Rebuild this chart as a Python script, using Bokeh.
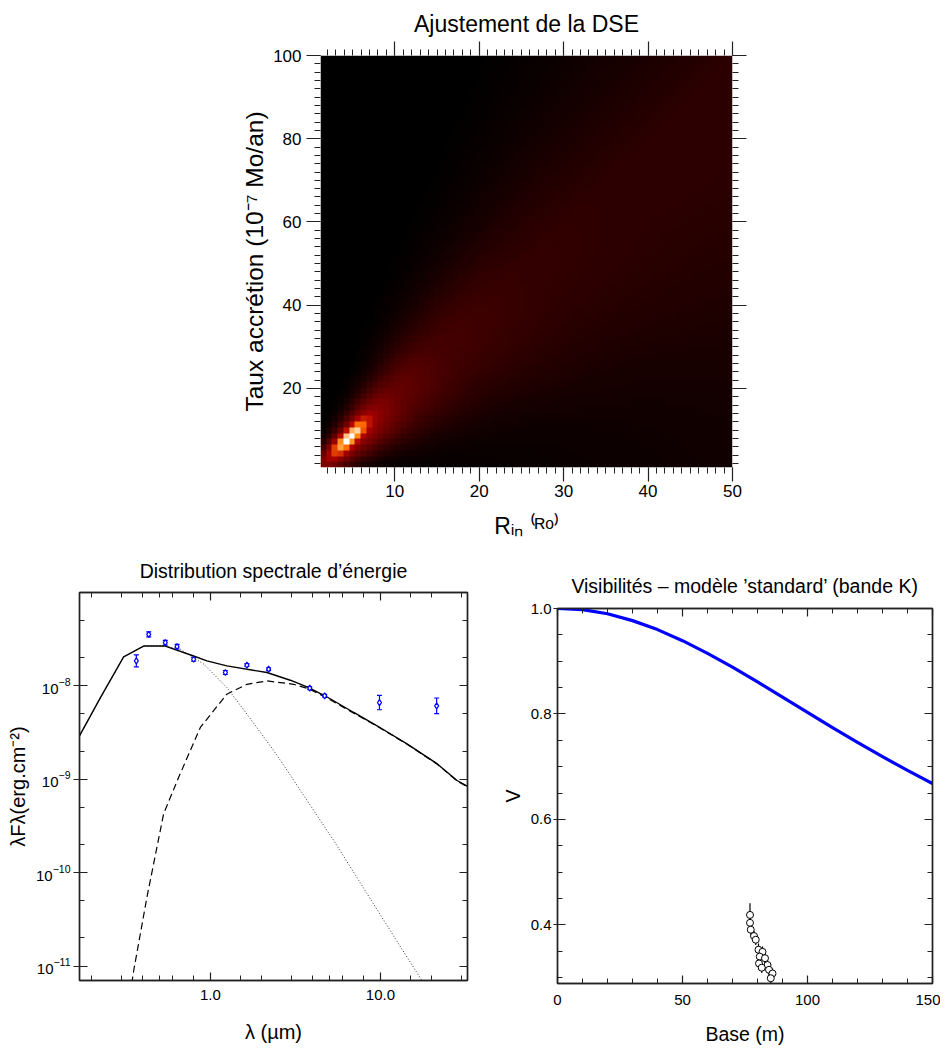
import numpy as np
from bokeh.plotting import figure
from bokeh.layouts import column, row
from bokeh.models import (LinearAxis, LogAxis, SingleIntervalTicker, FixedTicker,
                          LinearColorMapper, ColumnDataSource, Whisker, TeeHead, Spacer,
                          NumeralTickFormatter, LogTickFormatter, CustomJSTickFormatter)
from bokeh.embed import file_html
from bokeh.resources import INLINE

FONT = "Liberation Sans"

# ---------------- data: DSE fit map ----------------
map_rin_range = [1.2, 50.0]
map_mdot_range = [1.0, 100.0]
map_ncells = [72, 72]
peak_rin, peak_mdot = 4.7, 8.3
ridge_rin = [1.2, 3.0, 6.0, 10.0, 15.0, 25.0, 35.0, 50.0]
ridge_level = [0.30, 0.44, 0.44, 0.27, 0.175, 0.115, 0.09, 0.075]
ridge_w_up = [2.0, 2.3, 3.2, 5.0, 8.0, 13.0, 19.0, 27.0]
ridge_w_dn = [2.4, 3.3, 5.0, 8.5, 13.0, 23.0, 33.0, 44.0]
core_level = 0.62
floor_right = 0.045

# ---------------- data: SED ----------------
lam_tot = [0.17, 0.2257, 0.309, 0.405, 0.543, 0.797, 0.955, 1.25, 2.15, 2.95, 3.79,
           4.86, 6.97, 9.55, 14.4, 21.6, 28.2, 32.5]
f_tot = [2.92e-9, 7.5e-9, 2.04e-8, 2.67e-8, 2.67e-8, 2.09e-8, 1.85e-8, 1.64e-8, 1.39e-8,
         1.15e-8, 9.6e-9, 7.6e-9, 5.19e-9, 3.74e-9, 2.38e-9, 1.46e-9, 9.7e-10, 8.4e-10]
lam_star = [0.17, 0.2257, 0.309, 0.405, 0.543, 0.666, 0.914, 1.25, 1.64, 2.36, 2.83,
            5.31, 8.35, 13.1, 17.2, 18.5]
f_star = [2.92e-9, 7.5e-9, 2.04e-8, 2.67e-8, 2.67e-8, 2.47e-8, 1.71e-8, 9.6e-9, 4.99e-9,
          2.02e-9, 1.24e-9, 2.21e-10, 5.95e-11, 1.61e-11, 7.4e-12, 6.0e-12]
lam_disk = [0.345, 0.354, 0.424, 0.531, 0.651, 0.873, 1.25, 1.64, 2.15, 3.09, 3.79, 4.86,
            6.97, 9.55, 14.4, 21.6, 28.2, 32.5]
f_disk = [6.5e-12, 8.9e-12, 5.5e-11, 4.27e-10, 1.05e-9, 3.59e-9, 8.15e-9, 1.04e-8, 1.13e-8,
          1.04e-8, 9.3e-9, 7.4e-9, 5.1e-9, 3.7e-9, 2.36e-9, 1.45e-9, 9.6e-10, 8.3e-10]
lam_obs = [0.367, 0.434, 0.543, 0.637, 0.797, 1.225, 1.64, 2.2, 3.84, 4.7, 9.87, 21.4]
f_obs = [1.85e-8, 3.56e-8, 2.9e-8, 2.63e-8, 1.93e-8, 1.39e-8, 1.67e-8, 1.51e-8,
         9.45e-9, 7.82e-9, 6.63e-9, 6.11e-9]
err_dex = [0.064, 0.027, 0.025, 0.025, 0.02, 0.02, 0.015, 0.015, 0.015, 0.015, 0.077, 0.084]

# ---------------- data: visibilities ----------------
base_mod = [0, 10, 20, 30, 40, 50, 60, 70, 80, 90, 100, 110, 120, 130, 140, 150]
v_mod = [1.000, 0.998, 0.990, 0.977, 0.960, 0.939, 0.915, 0.889, 0.861, 0.832, 0.803,
         0.774, 0.746, 0.719, 0.693, 0.668]
base_obs = [77.0, 77.0, 77.3, 78.6, 79.3, 80.4, 82.0, 80.9, 83.0, 80.6, 84.0, 81.7, 84.6, 86.0, 85.3]
v_obs = [0.419, 0.404, 0.391, 0.379, 0.372, 0.353, 0.349, 0.340, 0.337, 0.327, 0.324,
         0.319, 0.315, 0.308, 0.299]
v_err = [0.022, 0.010, 0.010, 0.010, 0.010, 0.012, 0.010, 0.010, 0.010, 0.012, 0.010,
         0.010, 0.010, 0.010, 0.010]

BLANK = CustomJSTickFormatter(code="return ''")


def style_axis(ax, size, tick_in, tick_out, minor_in, minor_out, labels=True, line=True):
    ax.major_label_text_font = FONT
    ax.major_label_text_font_size = size if labels else "1px"
    ax.major_label_text_color = "black"
    ax.axis_label_text_font = FONT
    ax.axis_label_text_font_style = "normal"
    ax.axis_label_text_color = "black"
    ax.major_tick_in = tick_in
    ax.major_tick_out = tick_out
    ax.minor_tick_in = minor_in
    ax.minor_tick_out = minor_out
    ax.major_tick_line_color = "#222222"
    ax.minor_tick_line_color = "#222222"
    ax.major_tick_line_width = 1.2
    ax.minor_tick_line_width = 1.0
    if line:
        ax.axis_line_color = "#222222"
        ax.axis_line_width = 1.4
    else:
        ax.axis_line_color = None
    if not labels:
        ax.formatter = BLANK
        ax.major_label_standoff = 0


def style_title(p, size, standoff):
    p.title.align = "center"
    p.title.text_font = FONT
    p.title.text_font_style = "normal"
    p.title.text_font_size = size
    p.title.text_color = "black"
    p.title.standoff = standoff


# ================= top: heat map =================
p1 = figure(frame_width=412, frame_height=412, x_range=tuple(map_rin_range),
            y_range=tuple(map_mdot_range), output_backend="svg", toolbar_location=None,
            title="Ajustement de la DSE",
            min_border_left=320, min_border_right=30, min_border_top=55, min_border_bottom=79,
            x_axis_location=None, y_axis_location=None)
p1.outline_line_color = None
p1.grid.visible = False
style_title(p1, "23px", 10)

ncx, ncy = map_ncells
dx = (map_rin_range[1] - map_rin_range[0]) / ncx
dy = (map_mdot_range[1] - map_mdot_range[0]) / ncy
C, R = np.meshgrid(np.arange(ncx) + 0.5, np.arange(ncy) + 0.5)
pc = (peak_rin - map_rin_range[0]) / dx
pr = (peak_mdot - map_mdot_range[0]) / dy
u = (C + R) / 2.0
d = (R - C) - (pr - pc)
u_pts = [(r - map_rin_range[0]) / dx for r in ridge_rin]
lev = np.interp(u, u_pts, ridge_level)
wup = np.interp(u, u_pts, ridge_w_up)
wdn = np.interp(u, u_pts, ridge_w_dn)
w = np.where(d > 0, wup, wdn)
core = np.exp(-((u - (pc + pr) / 2.0) / 1.7) ** 2 / 2.0 - (d / 1.1) ** 2 / 2.0)
bg = floor_right * (C / ncx) * np.where(d < 0, 1.0, np.exp(-np.clip(d, 0, None) / 8.0))
field = np.clip(core_level * core + lev * np.exp(-d ** 2 / (2 * w ** 2)) + bg, 0, 1)

pal = []
for i in range(256):
    r_ = min(255, int(round(i * 255 / 175)))
    g_ = max(0, min(255, int(round((i - 120) * 255 / 135))))
    b_ = max(0, min(255, int(round((i - 190) * 255 / 65))))
    pal.append("#%02x%02x%02x" % (r_, g_, b_))
cmap = LinearColorMapper(palette=pal, low=0, high=1)
p1.image(image=[field], x=map_rin_range[0], y=map_mdot_range[0],
         dw=map_rin_range[1] - map_rin_range[0], dh=map_mdot_range[1] - map_mdot_range[0],
         color_mapper=cmap)

xt1 = SingleIntervalTicker(interval=10, num_minor_ticks=10)
yt1 = SingleIntervalTicker(interval=20, num_minor_ticks=10)
for loc, lab in (("below", True), ("above", False)):
    ax = LinearAxis(ticker=xt1)
    style_axis(ax, "17px", 0, 14, 0, 6, labels=lab, line=False)
    if lab:
        ax.major_label_standoff = 3
        ax.axis_label = "Rᵢₙ ⁽ᴿᵒ⁾"
        ax.axis_label_text_font_size = "23px"
        ax.axis_label_standoff = 13
    p1.add_layout(ax, loc)
for loc, lab in (("left", True), ("right", False)):
    ax = LinearAxis(ticker=yt1)
    style_axis(ax, "17px", 0, 14, 0, 6, labels=lab, line=False)
    if lab:
        ax.major_label_standoff = 5
        ax.axis_label = "Taux accrétion (10⁻⁷ Mo/an)"
        ax.axis_label_text_font_size = "24.5px"
        ax.axis_label_standoff = 2
    p1.add_layout(ax, loc)

# ================= bottom left: SED =================
p2 = figure(frame_width=388, frame_height=388, x_axis_type="log", y_axis_type="log",
            x_range=(0.17, 32.5), y_range=(7e-12, 1e-7), output_backend="svg",
            toolbar_location=None, title="Distribution spectrale d’énergie",
            min_border_left=79, min_border_right=30,
            min_border_top=46, min_border_bottom=68,
            x_axis_location=None, y_axis_location=None)
p2.grid.visible = False
p2.outline_line_color = "#222222"
p2.outline_line_width = 1.4
style_title(p2, "19.5px", 22)

xt2 = FixedTicker(ticks=[1, 10], minor_ticks=[0.2, 0.3, 0.4, 0.5, 0.6, 0.8, 1.5, 2, 3, 4, 5, 6, 8, 15, 20, 30])
yt2 = FixedTicker(ticks=[1e-11, 1e-10, 1e-9, 1e-8],
                  minor_ticks=[2e-11, 5e-11, 2e-10, 5e-10, 2e-9, 5e-9, 2e-8, 5e-8])
for loc, lab in (("below", True), ("above", False)):
    ax = LogAxis(ticker=xt2, formatter=NumeralTickFormatter(format="0.0"))
    style_axis(ax, "15px", 8, 0, 5, 0, labels=lab)
    if lab:
        ax.major_label_standoff = 9
        ax.axis_label = "λ (µm)"
        ax.axis_label_text_font_size = "20px"
        ax.axis_label_standoff = 18
    p2.add_layout(ax, loc)
for loc, lab in (("left", True), ("right", False)):
    ax = LogAxis(ticker=yt2, formatter=LogTickFormatter())
    style_axis(ax, "15px", 8, 6 if lab else 0, 5, 0, labels=lab)
    if lab:
        ax.major_label_standoff = 3
        ax.axis_label = "λFλ(erg.cm⁻²)"
        ax.axis_label_text_font_size = "20px"
        ax.axis_label_standoff = 4
    p2.add_layout(ax, loc)

p2.line(lam_star, f_star, line_color="#333333", line_width=1.0, line_dash="1 2")
p2.line(lam_disk, f_disk, line_color="black", line_width=1.2, line_dash="7 4")
p2.line(lam_tot, f_tot, line_color="black", line_width=1.4)
lo = [f * 10 ** (-e) for f, e in zip(f_obs, err_dex)]
hi = [f * 10 ** (e) for f, e in zip(f_obs, err_dex)]
src_obs = ColumnDataSource(dict(x=lam_obs, y=f_obs, lo=lo, hi=hi))
p2.add_layout(Whisker(source=src_obs, base="x", lower="lo", upper="hi", line_color="blue",
                      line_width=1.2,
                      lower_head=TeeHead(size=5, line_color="blue", line_width=1.2),
                      upper_head=TeeHead(size=5, line_color="blue", line_width=1.2)))
p2.scatter("x", "y", source=src_obs, marker="diamond", size=6, fill_color="white",
           line_color="blue", line_width=1.2)

# ================= bottom right: visibilities =================
p3 = figure(frame_width=375, frame_height=375, x_range=(0, 150), y_range=(0.289, 1.0),
            output_backend="svg", toolbar_location=None,
            title="Visibilités – modèle ’standard’ (bande K)",
            min_border_left=60, min_border_right=8, min_border_top=46, min_border_bottom=51,
            x_axis_location=None, y_axis_location=None)
p3.grid.visible = False
p3.outline_line_color = "#222222"
p3.outline_line_width = 1.4
style_title(p3, "19.5px", 23)
xt3 = SingleIntervalTicker(interval=50, num_minor_ticks=5)
yt3 = SingleIntervalTicker(interval=0.2, num_minor_ticks=4)
for loc, lab in (("below", True), ("above", False)):
    ax = LinearAxis(ticker=xt3)
    style_axis(ax, "15px", 8, 0, 5, 0, labels=lab)
    if lab:
        ax.major_label_standoff = 11
        ax.axis_label = "Base (m)"
        ax.axis_label_text_font_size = "19.5px"
        ax.axis_label_standoff = 15
    p3.add_layout(ax, loc)
for loc, lab in (("left", True), ("right", False)):
    ax = LinearAxis(ticker=yt3, formatter=NumeralTickFormatter(format="0.0"))
    style_axis(ax, "15px", 8, 4 if lab else 0, 5, 0, labels=lab)
    if lab:
        ax.major_label_standoff = 2
        ax.axis_label = "V"
        ax.axis_label_text_font_size = "19.5px"
        ax.axis_label_standoff = 4
    p3.add_layout(ax, loc)

p3.line(base_mod, v_mod, line_color="blue", line_width=3.2, line_join="round")
src_v = ColumnDataSource(dict(x=base_obs, y=v_obs,
                              lo=[a - b for a, b in zip(v_obs, v_err)],
                              hi=[a + b for a, b in zip(v_obs, v_err)]))
p3.add_layout(Whisker(source=src_v, base="x", lower="lo", upper="hi", line_color="black",
                      line_width=1.2, lower_head=None, upper_head=None))
p3.scatter("x", "y", source=src_v, marker="circle", size=7, fill_color="white",
           line_color="black", line_width=1.0)

layout = column(p1, row(p2, column(Spacer(height=15, width=10), p3)))
open("out.html", "w").write(file_html(layout, INLINE))
